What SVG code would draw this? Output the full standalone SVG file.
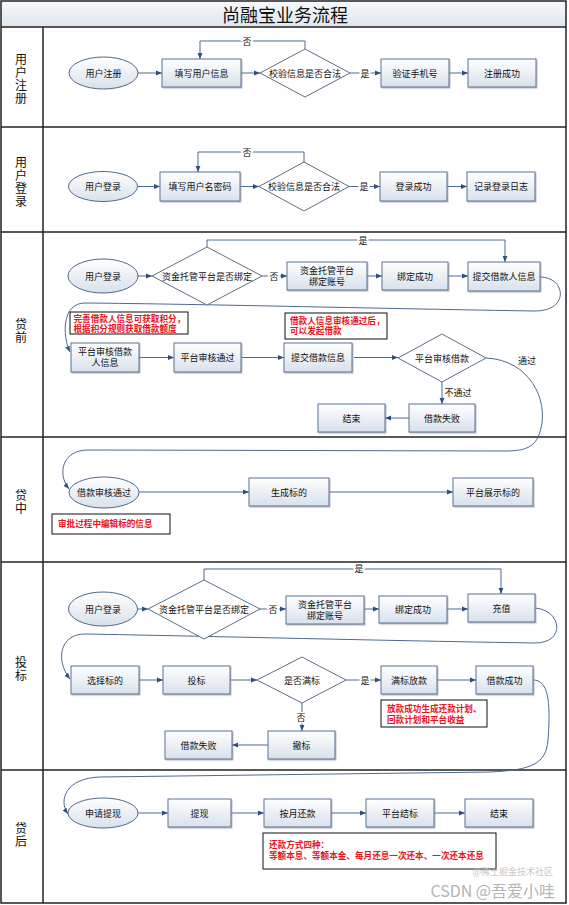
<svg xmlns="http://www.w3.org/2000/svg" width="569" height="905" viewBox="0 0 569 905">
<defs>
<linearGradient id="gBox" x1="0" y1="0" x2="0" y2="1"><stop offset="0" stop-color="#ffffff"/><stop offset="1" stop-color="#d8e1ec"/></linearGradient>
<linearGradient id="gTitle" x1="0" y1="0" x2="0" y2="1"><stop offset="0" stop-color="#f7f9fb"/><stop offset="1" stop-color="#dfe6ee"/></linearGradient>
<filter id="sh" x="-10%" y="-10%" width="130%" height="140%"><feDropShadow dx="1" dy="1.2" stdDeviation="0.7" flood-color="#8a8f96" flood-opacity="0.55"/></filter>
<marker id="arr" viewBox="0 0 10 10" refX="10" refY="5" markerWidth="6" markerHeight="6" orient="auto" markerUnits="userSpaceOnUse"><path d="M0,1 L10,5 L0,9 z" fill="#2f4f7f"/></marker>
<style>
.box{fill:url(#gBox);stroke:#5b7393;stroke-width:1;filter:url(#sh)}
.ell{fill:url(#gBox);stroke:#4f6888;stroke-width:1}
.dia{fill:#ffffff;stroke:#5d6f86;stroke-width:1}
.t{font-family:"Noto Sans CJK SC","Liberation Sans",sans-serif;font-size:9px;fill:#111;text-anchor:middle;dominant-baseline:central}
.ml{font-family:"Liberation Sans","Noto Sans CJK SC",sans-serif}
.lbl{font-family:"Noto Sans CJK SC","Liberation Sans",sans-serif;font-size:9px;fill:#111;text-anchor:middle;dominant-baseline:central;stroke:#fff;stroke-width:3;paint-order:stroke}
.lane{font-family:"Noto Sans CJK SC","Liberation Sans",sans-serif;font-size:12px;fill:#111;text-anchor:middle;writing-mode:vertical-rl;letter-spacing:1px}
.note{fill:#ffffff;stroke:#111;stroke-width:1}
.nt{font-family:"Liberation Sans","Noto Sans CJK SC",sans-serif;font-size:8.6px;fill:#e8141c;dominant-baseline:central;font-weight:bold}
.c{fill:none;stroke:#4d6a8f;stroke-width:1;marker-end:url(#arr)}
.grid{fill:none;stroke:#222;stroke-width:1.5}
</style>
</defs>
<rect x="0" y="0" width="569" height="905" fill="#ffffff"/>
<g id="frame">
<rect x="1" y="1" width="565" height="26" fill="url(#gTitle)"/>
<text x="285" y="14" font-family="'Noto Sans CJK SC',sans-serif" font-size="18" text-anchor="middle" dominant-baseline="central" fill="#111">尚融宝业务流程</text>
<rect class="grid" x="1" y="1" width="565" height="902"/>
<line class="grid" x1="1" y1="27" x2="566" y2="27"/>
<line class="grid" x1="1" y1="127" x2="566" y2="127"/>
<line class="grid" x1="1" y1="232" x2="566" y2="232"/>
<line class="grid" x1="1" y1="437" x2="566" y2="437"/>
<line class="grid" x1="1" y1="562" x2="566" y2="562"/>
<line class="grid" x1="1" y1="770" x2="566" y2="770"/>
<line class="grid" x1="43" y1="27" x2="43" y2="903"/>
<text class="lane" x="21" y="79">用户注册</text>
<text class="lane" x="21" y="182">用户登录</text>
<text class="lane" x="21" y="331">贷前</text>
<text class="lane" x="21" y="502">贷中</text>
<text class="lane" x="21" y="669">投标</text>
<text class="lane" x="21" y="835">贷后</text>
</g>
<g id="connectors">
<path class="c" d="M138,73 H162"/>
<path class="c" d="M241,73 H260"/>
<path class="c" d="M350,73 H381"/>
<path class="c" d="M449,73 H468"/>
<path class="c" d="M305,49 V41 H200 V59"/>
<path class="c" d="M137.5,186.5 H160"/>
<path class="c" d="M240,186.5 H259"/>
<path class="c" d="M349,186.5 H380"/>
<path class="c" d="M447,186.5 H467"/>
<path class="c" d="M304,162 V152 H198 V172"/>
<path class="c" d="M138,276 H152"/>
<path class="c" d="M262,276 H287"/>
<path class="c" d="M367,276 H382"/>
<path class="c" d="M448,276 H468"/>
<path class="c" d="M207,247 V240 H505 V262"/>
<path class="c" d="M540,277 C566,277 570,311 535,311 C400,309 200,304 85,303 C62,303 62,335 70,352"/>
<path class="c" d="M139,357.5 H174"/>
<path class="c" d="M241,357.5 H284"/>
<path class="c" d="M354,357.5 H398"/>
<path class="c" d="M442,382 V404"/>
<path class="c" d="M409,418 H385"/>
<path class="c" d="M486,358 C530,360 548,400 541,428 C537,446 528,451 505,451 L88,450 C62,450 57,474 69,489"/>
<path class="c" d="M139,492 H249"/>
<path class="c" d="M329,492 H453"/>
<path class="c" d="M137,609 H148"/>
<path class="c" d="M260,609 H286"/>
<path class="c" d="M364,609 H379"/>
<path class="c" d="M447,609 H468"/>
<path class="c" d="M204,580 V569 H501 V594"/>
<path class="c" d="M535,608 C562,610 566,643 535,643 C400,641 200,636 85,634 C60,634 55,660 70,679"/>
<path class="c" d="M139,680 H163"/>
<path class="c" d="M230,680 H257"/>
<path class="c" d="M346,680 H381"/>
<path class="c" d="M437,680 H476"/>
<path class="c" d="M302,703 V731"/>
<path class="c" d="M268,745 H232"/>
<path class="c" d="M533,680 C548,680 551,700 548,740 C546,764 532,770 490,772 L100,777 C66,778 58,800 68,814"/>
<path class="c" d="M138,813 H168"/>
<path class="c" d="M231,813 H264"/>
<path class="c" d="M331,813 H366"/>
<path class="c" d="M434,813 H465"/>
<text class="lbl" x="247" y="41">否</text>
<text class="lbl" x="365" y="73">是</text>
<text class="lbl" x="247" y="152">否</text>
<text class="lbl" x="364" y="186.5">是</text>
<text class="lbl" x="274" y="276">否</text>
<text class="lbl" x="363" y="240">是</text>
<text class="lbl" x="458" y="392">不通过</text>
<text class="lbl" x="527" y="360">通过</text>
<text class="lbl" x="273" y="609">否</text>
<text class="lbl" x="359" y="568">是</text>
<text class="lbl" x="365" y="680">是</text>
<text class="lbl" x="301" y="717">否</text>
</g>
<g id="reg-start"><ellipse class="ell" cx="103.5" cy="73" rx="34.5" ry="16"/><text class="t" x="103.5" y="73">用户注册</text></g>
<g id="reg-fill"><rect class="box" x="162" y="59" width="79" height="28"/><text class="t" x="201.5" y="73">填写用户信息</text></g>
<g id="reg-check"><polygon class="dia" points="260,73 305,49 350,73 305,97"/><text class="t" x="305" y="73">校验信息是否合法</text></g>
<g id="reg-phone"><rect class="box" x="381" y="59" width="68" height="28"/><text class="t" x="415" y="73">验证手机号</text></g>
<g id="reg-ok"><rect class="box" x="468" y="59" width="68" height="28"/><text class="t" x="502" y="73">注册成功</text></g>
<g id="login-start"><ellipse class="ell" cx="103" cy="186.5" rx="34.5" ry="15"/><text class="t" x="103" y="186.5">用户登录</text></g>
<g id="login-fill"><rect class="box" x="160" y="172" width="80" height="29"/><text class="t" x="200" y="186.5">填写用户名密码</text></g>
<g id="login-check"><polygon class="dia" points="259,186.5 304,162 349,186.5 304,211"/><text class="t" x="304" y="186.5">校验信息是否合法</text></g>
<g id="login-ok"><rect class="box" x="380" y="172" width="67" height="29"/><text class="t" x="413.5" y="186.5">登录成功</text></g>
<g id="login-log"><rect class="box" x="467" y="172" width="68" height="29"/><text class="t" x="501" y="186.5">记录登录日志</text></g>
<g id="pre-start"><ellipse class="ell" cx="103" cy="276" rx="35" ry="17"/><text class="t" x="103" y="276">用户登录</text></g>
<g id="pre-bound"><polygon class="dia" points="152,276 207,247 262,276 207,305"/><text class="t" x="207" y="276">资金托管平台是否绑定</text></g>
<g id="pre-bind"><rect class="box" x="287" y="262" width="80" height="28"/><text class="t ml" x="327" y="270.5">资金托管平台<tspan x="327" dy="11">绑定账号</tspan></text></g>
<g id="pre-bindok"><rect class="box" x="382" y="262" width="66" height="28"/><text class="t" x="415" y="276">绑定成功</text></g>
<g id="pre-submit"><rect class="box" x="468" y="262" width="72" height="29"/><text class="t" x="504" y="276.5">提交借款人信息</text></g>
<g id="pre-note1"><rect class="note" x="70" y="312" width="118" height="22"/><text class="nt" x="73.5" y="318.5">完善借款人信息可获取积分，<tspan x="73.5" dy="10">根据积分规则获取借款额度</tspan></text></g>
<g id="pre-note2"><rect class="note" x="285" y="313" width="102" height="26"/><text class="nt" x="290" y="321">借款人信息审核通过后，<tspan x="290" dy="10">可以发起借款</tspan></text></g>
<g id="pre-audit"><rect class="box" x="71" y="343" width="68" height="29"/><text class="t ml" x="105" y="352">平台审核借款<tspan x="105" dy="11">人信息</tspan></text></g>
<g id="pre-pass"><rect class="box" x="174" y="343" width="67" height="29"/><text class="t" x="207.5" y="357.5">平台审核通过</text></g>
<g id="pre-loan"><rect class="box" x="284" y="343" width="68" height="29"/><text class="t" x="318" y="357.5">提交借款信息</text></g>
<g id="pre-loancheck"><polygon class="dia" points="398,358 442,334 486,358 442,382"/><text class="t" x="442" y="358">平台审核借款</text></g>
<g id="pre-fail"><rect class="box" x="409" y="404" width="66" height="28"/><text class="t" x="442" y="418">借款失败</text></g>
<g id="pre-end"><rect class="box" x="318" y="404" width="67" height="28"/><text class="t" x="351.5" y="418">结束</text></g>
<g id="mid-start"><ellipse class="ell" cx="104" cy="492.5" rx="35" ry="15.5"/><text class="t" x="104" y="492.5">借款审核通过</text></g>
<g id="mid-gen"><rect class="box" x="249" y="478" width="80" height="28"/><text class="t" x="289" y="492">生成标的</text></g>
<g id="mid-show"><rect class="box" x="453" y="478" width="80" height="28"/><text class="t" x="493" y="492">平台展示标的</text></g>
<g id="mid-note"><rect class="note" x="52" y="514" width="118" height="20"/><text class="nt" x="58" y="524">审批过程中编辑标的信息</text></g>
<g id="bid-start"><ellipse class="ell" cx="103" cy="609" rx="34.5" ry="17"/><text class="t" x="103" y="609">用户登录</text></g>
<g id="bid-bound"><polygon class="dia" points="148,609 204,580 260,609 204,639"/><text class="t" x="204" y="609">资金托管平台是否绑定</text></g>
<g id="bid-bind"><rect class="box" x="286" y="596" width="78" height="28"/><text class="t ml" x="325" y="604.5">资金托管平台<tspan x="325" dy="11">绑定账号</tspan></text></g>
<g id="bid-bindok"><rect class="box" x="379" y="596" width="68" height="27"/><text class="t" x="413" y="609.5">绑定成功</text></g>
<g id="bid-charge"><rect class="box" x="468" y="594" width="67" height="28"/><text class="t" x="501.5" y="608">充值</text></g>
<g id="bid-select"><rect class="box" x="71" y="666" width="68" height="28"/><text class="t" x="105" y="680">选择标的</text></g>
<g id="bid-bid"><rect class="box" x="163" y="666" width="67" height="28"/><text class="t" x="196.5" y="680">投标</text></g>
<g id="bid-full"><polygon class="dia" points="257,680 302,657 346,680 302,703"/><text class="t" x="302" y="680">是否满标</text></g>
<g id="bid-lend"><rect class="box" x="381" y="666" width="56" height="28"/><text class="t" x="409" y="680">满标放款</text></g>
<g id="bid-ok"><rect class="box" x="476" y="666" width="57" height="28"/><text class="t" x="504.5" y="680">借款成功</text></g>
<g id="bid-note"><rect class="note" x="381" y="700" width="106" height="27"/><text class="nt" x="387" y="709">放款成功生成还款计划、<tspan x="387" dy="11">回款计划和平台收益</tspan></text></g>
<g id="bid-cancel"><rect class="box" x="268" y="731" width="67" height="28"/><text class="t" x="301.5" y="745">撤标</text></g>
<g id="bid-fail"><rect class="box" x="165" y="731" width="67" height="28"/><text class="t" x="198.5" y="745">借款失败</text></g>
<g id="post-start"><ellipse class="ell" cx="103" cy="813" rx="35" ry="15"/><text class="t" x="103" y="813">申请提现</text></g>
<g id="post-withdraw"><rect class="box" x="168" y="799" width="63" height="28"/><text class="t" x="199.5" y="813">提现</text></g>
<g id="post-repay"><rect class="box" x="264" y="799" width="67" height="28"/><text class="t" x="297.5" y="813">按月还款</text></g>
<g id="post-close"><rect class="box" x="366" y="799" width="68" height="28"/><text class="t" x="400" y="813">平台结标</text></g>
<g id="post-end"><rect class="box" x="465" y="799" width="68" height="28"/><text class="t" x="499" y="813">结束</text></g>
<g id="post-note"><rect class="note" x="263" y="833" width="233" height="36"/><text class="nt" x="269" y="845">还款方式四种：<tspan x="269" dy="11">等额本息、等额本金、每月还息一次还本、一次还本还息</tspan></text></g>
<g id="watermark">
<text x="553" y="871" font-family="'Noto Sans CJK SC',sans-serif" font-size="9" fill="#c8c8c8" text-anchor="end" dominant-baseline="central">@稀土掘金技术社区</text>
<text x="555" y="890" font-family="'Noto Sans CJK SC',sans-serif" font-size="16" fill="#b4b4b4" text-anchor="end" dominant-baseline="central">CSDN @吾爱小哇</text>
</g>
</svg>
